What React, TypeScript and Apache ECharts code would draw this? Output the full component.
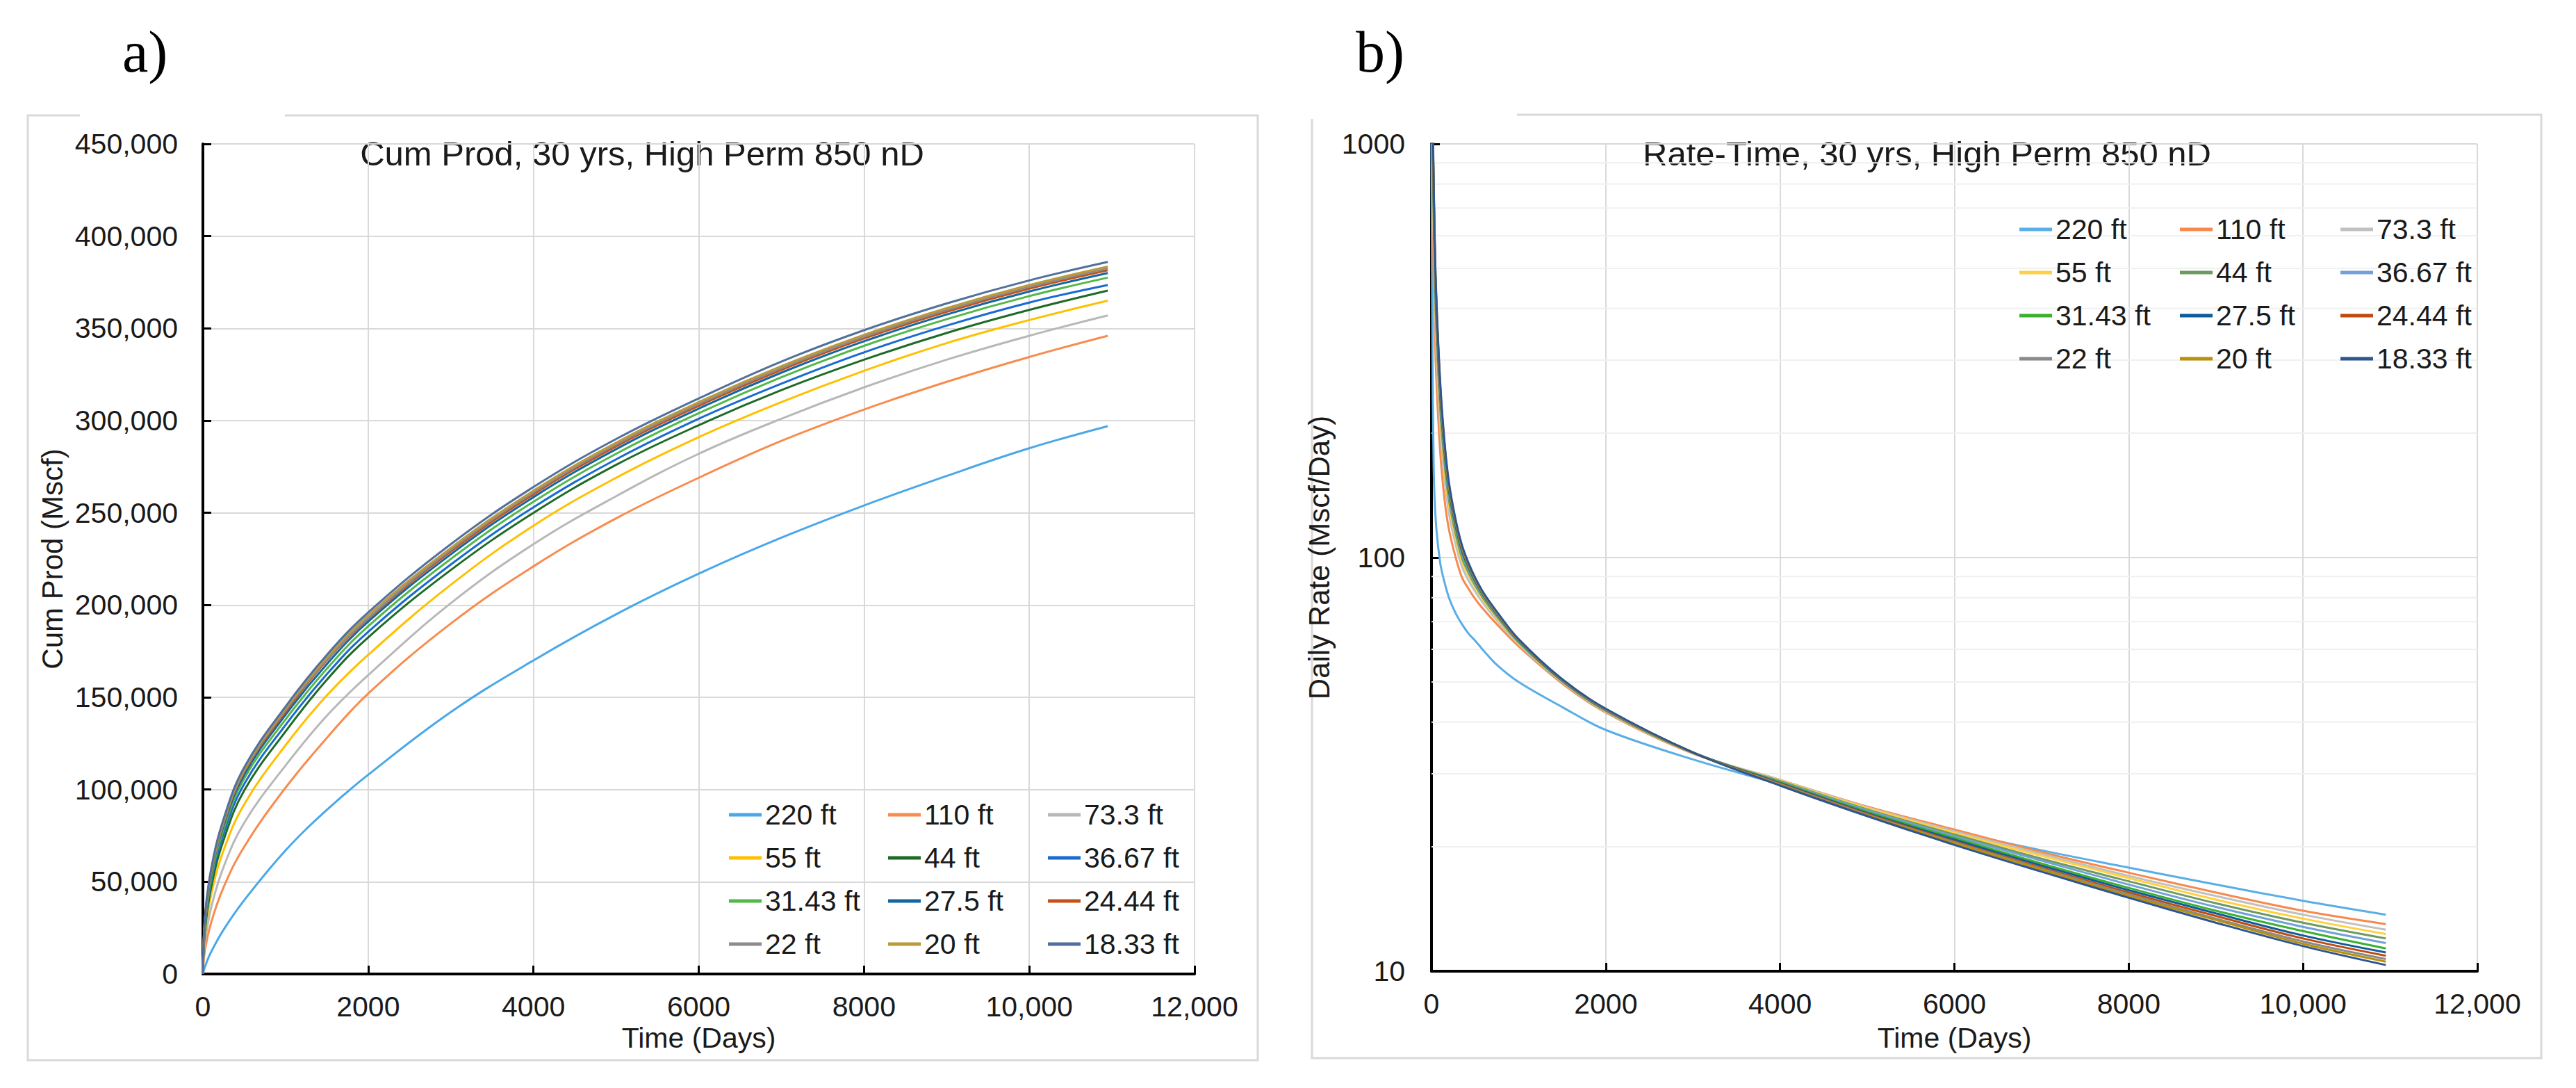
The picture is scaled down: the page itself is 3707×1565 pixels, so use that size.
import React, { useEffect, useRef } from "react";
import * as echarts from "echarts";

const FONT = "'Liberation Sans', Arial, Helvetica, sans-serif";
const SERIF = "'Liberation Serif', 'Times New Roman', serif";
const TEXT = "#1A1A1A";
const GRID = "#D9D9D9";
const MINOR = "#F0F0F0";

const seriesNames = ["220 ft", "110 ft", "73.3 ft", "55 ft", "44 ft", "36.67 ft", "31.43 ft", "27.5 ft", "24.44 ft", "22 ft", "20 ft", "18.33 ft"];

const cumColors = ["#4AA8E8", "#F88C4F", "#B8B8B8", "#FFC000", "#1E6B26", "#1A6BD0", "#52B848", "#1366A0", "#C5501A", "#8C8C8C", "#BC9A3A", "#52709E"];
const rateColors = ["#5AAEE5", "#F7894E", "#C0C0C0", "#FFD040", "#6E9A60", "#72A0D8", "#3CB030", "#0F5C9A", "#C04A10", "#8A8A8A", "#B8900A", "#2F5590"];

// Legend layout: columns of series indices
const legendColumns = [[0, 3, 6, 9], [1, 4, 7, 10], [2, 5, 8, 11]];

// ---------- Chart a) cumulative production (thousand Mscf) ----------
const cumDays = [0, 25, 100, 250, 500, 1000, 1500, 2000, 3000, 4000, 5000, 6000, 7000, 8000, 9000, 10000, 10950];
const cum220 = [0, 4, 12, 24, 40, 67, 89, 108, 142, 170, 195, 217, 236.5, 254, 270, 285, 297];
const cum110 = [0, 13, 28, 47, 69, 101, 128, 152, 190, 221, 247, 269, 289, 306, 321, 334.5, 346];
const cum73 = [0, 17, 36, 58, 82, 113, 140, 162, 201, 233, 259, 282, 301, 318, 333, 346, 357];
const cum55 = [0, 21, 43, 67, 92, 124, 151, 173, 211, 243, 269, 291, 310, 327, 342, 354.5, 365];
const cum44 = [0, 23.5, 47, 72.5, 99.5, 131.5, 159.5, 182.5, 219, 250, 276, 297.5, 316.5, 333, 347.5, 360, 370.5];
const cum36 = [0, 25, 50, 76, 103, 135, 162.5, 185.5, 222, 253, 279, 301, 320, 337, 351.5, 364, 373.5];
const cum31 = [0, 26.5, 52, 78.5, 106, 138, 165.5, 188.5, 225, 256, 282, 304, 323.5, 340.5, 355, 367.5, 377.5];
const cum27 = [0, 28, 54, 80.5, 108, 140.5, 168, 191, 227.5, 258.5, 284.5, 306.5, 326, 343, 357.5, 370, 380];
const cum24 = [0, 29, 55, 81.5, 109.5, 142, 170, 192.5, 229, 260, 286, 308, 327.5, 344.5, 359, 371.5, 381.5];
const cum22 = [0, 29.5, 55.5, 82, 110, 143, 170.5, 193, 230, 261, 287, 309, 328.5, 345.5, 360, 372.5, 382.5];
const cum20 = [0, 30, 56, 83, 111, 144, 171.5, 194.5, 231, 262, 288, 310, 329.5, 346.5, 361, 373.5, 383.5];
const cum18 = [0, 31, 57, 84, 112, 145, 173, 196, 233, 264, 290, 312, 332, 349, 363.5, 376, 386];
const cumSeries = [cum220, cum110, cum73, cum55, cum44, cum36, cum31, cum27, cum24, cum22, cum20, cum18];

const timeTicks = [0, 2000, 4000, 6000, 8000, 10000, 12000];
const timeTickLabels = ["0", "2000", "4000", "6000", "8000", "10,000", "12,000"];
const cumTicks = [0, 50000, 100000, 150000, 200000, 250000, 300000, 350000, 400000, 450000];
const cumTickLabels = ["0", "50,000", "100,000", "150,000", "200,000", "250,000", "300,000", "350,000", "400,000", "450,000"];

// ---------- Chart b) daily rate (Mscf/Day) ----------
const rateDays = [0, 10, 25, 50, 100, 150, 200, 275, 350, 425, 500, 600, 750, 1000, 1500, 2000, 3000, 4000, 5000, 6000, 7000, 8000, 9000, 10000, 10950];
const rate220 = [1000, 350, 165, 122, 97, 87, 80, 73.5, 69, 65.5, 63, 59.5, 55, 50, 43.5, 38.3, 32.5, 28.3, 24.6, 21.8, 19.6, 17.8, 16.2, 14.8, 13.7];
const rate110 = [2200, 900, 480, 290, 180, 138, 117, 100.5, 89.5, 84, 79.5, 74.8, 69, 61, 49.6, 42.2, 33.6, 29.0, 25.0, 22.0, 19.4, 17.3, 15.5, 14.0, 13.0];
const rate73 = [2400, 1000, 580, 340, 205, 154, 128, 108, 95, 88, 82.8, 77.2, 70.5, 61.7, 49.9, 42.4, 33.7, 29.0, 24.9, 21.8, 19.2, 17.0, 15.2, 13.7, 12.6];
const rate55 = [2600, 1100, 640, 370, 220, 163, 134, 112, 98, 90.5, 84.7, 78.6, 71.4, 62.1, 50.1, 42.5, 33.7, 28.9, 24.8, 21.6, 19.0, 16.8, 14.9, 13.4, 12.3];
const rate44 = [2700, 1150, 680, 390, 230, 169, 138, 115, 100, 92, 85.8, 79.4, 72, 62.4, 50.2, 42.6, 33.7, 28.8, 24.6, 21.4, 18.7, 16.5, 14.6, 13.1, 12.0];
const rate36 = [2800, 1200, 710, 405, 238, 174, 141, 117, 101.5, 93, 86.6, 80, 72.4, 62.6, 50.3, 42.7, 33.8, 28.7, 24.5, 21.2, 18.5, 16.2, 14.3, 12.8, 11.7];
const rate31 = [2900, 1250, 740, 420, 245, 178, 144, 119, 103, 94, 87.4, 80.5, 72.8, 62.8, 50.4, 42.8, 33.8, 28.6, 24.3, 21.0, 18.2, 15.9, 14.0, 12.5, 11.35];
const rate27 = [3000, 1300, 760, 430, 250, 181, 146, 120.5, 104, 95, 88, 80.9, 73.1, 63.0, 50.5, 42.8, 33.8, 28.5, 24.1, 20.8, 18.0, 15.7, 13.8, 12.2, 11.1];
const rate24 = [3100, 1320, 780, 440, 255, 184, 148, 121.5, 105, 95.5, 88.4, 81.2, 73.3, 63.1, 50.6, 42.9, 33.8, 28.4, 24.0, 20.6, 17.8, 15.5, 13.6, 12.0, 10.9];
const rate22 = [3150, 1350, 790, 445, 258, 186, 149, 122.5, 105.5, 96, 88.7, 81.4, 73.5, 63.2, 50.6, 42.9, 33.8, 28.3, 23.9, 20.5, 17.7, 15.35, 13.4, 11.8, 10.7];
const rate20 = [3200, 1380, 800, 450, 260, 187, 150, 123, 106, 96.5, 89, 81.6, 73.7, 63.3, 50.7, 43.0, 33.8, 28.2, 23.8, 20.4, 17.6, 15.2, 13.3, 11.65, 10.55];
const rate18 = [3300, 1400, 820, 460, 265, 190, 152, 124, 107, 97, 89.5, 82, 74, 63.5, 50.8, 43.1, 33.8, 28.1, 23.7, 20.2, 17.4, 15.05, 13.1, 11.5, 10.35];
const rateSeries = [rate220, rate110, rate73, rate55, rate44, rate36, rate31, rate27, rate24, rate22, rate20, rate18];

const rateTicks = [10, 100, 1000];
const rateTickLabels = ["10", "100", "1000"];
const rateMinorGrid = [20, 30, 40, 50, 60, 70, 80, 90, 200, 300, 400, 500, 600, 700, 800, 900];

const titleA = "Cum Prod, 30 yrs, High Perm 850 nD";
const titleB = "Rate-Time, 30 yrs, High Perm 850 nD";

function lookup(ticks: number[], labels: string[], v: number) {
  for (let i = 0; i < ticks.length; i++) {
    if (Math.abs(ticks[i] - v) < 1e-6 * Math.max(1, Math.abs(v))) return labels[i];
  }
  return "";
}

function xAxisCommon(nameGap: number) {
  return {
    type: "value",
    min: 0,
    max: 12000,
    interval: 2000,
    name: "Time (Days)",
    nameLocation: "middle",
    nameGap,
    nameTextStyle: { fontFamily: FONT, fontSize: 41, color: TEXT },
    axisLine: { show: true, onZero: false, lineStyle: { color: "#000", width: 4 } },
    axisTick: { show: true, inside: true, length: 12, lineStyle: { color: "#000", width: 3 } },
    axisLabel: {
      margin: 26,
      fontFamily: FONT,
      fontSize: 41,
      color: TEXT,
      formatter: (v: number) => lookup(timeTicks, timeTickLabels, v),
    },
    splitLine: { show: true, lineStyle: { color: GRID, width: 2 } },
  };
}

function legends(left: number[], top: number, colors: string[]) {
  return legendColumns.map((col, ci) => ({
    orient: "vertical",
    left: left[ci],
    top,
    padding: 0,
    itemGap: 16,
    itemWidth: 47,
    itemHeight: 5,
    icon: "rect",
    selectedMode: false,
    data: col.map((i) => ({ name: seriesNames[i], icon: "rect", itemStyle: { color: colors[i] } })),
    textStyle: { fontFamily: FONT, fontSize: 41, color: TEXT, lineHeight: 46 },
  }));
}

function borderGraphics(box: number[], gap: number[], label: string, labelX: number, title: string, titleX: number) {
  return [
    {
      type: "rect",
      silent: true,
      shape: { x: box[0], y: box[1], width: box[2], height: box[3] },
      style: { fill: "none", stroke: GRID, lineWidth: 3 },
    },
    {
      type: "rect",
      silent: true,
      shape: { x: gap[0], y: box[1] - 6, width: gap[1] - gap[0], height: 12 },
      style: { fill: "#fff" },
    },
    {
      type: "text",
      silent: true,
      x: labelX,
      y: 74,
      style: { text: label, font: `84px ${SERIF}`, fill: "#000", textAlign: "left", textVerticalAlign: "middle" },
    },
    {
      type: "text",
      silent: true,
      x: titleX,
      y: 221,
      style: { text: title, font: `49px ${FONT}`, fill: TEXT, textAlign: "center", textVerticalAlign: "middle" },
    },
  ];
}

function buildCumOption() {
  return {
    animation: false,
    backgroundColor: "#fff",
    color: cumColors,
    grid: { left: 292, top: 207, width: 1427, height: 1194 },
    xAxis: xAxisCommon(71),
    yAxis: {
      type: "value",
      min: 0,
      max: 450000,
      interval: 50000,
      name: "Cum Prod (Mscf)",
      nameLocation: "middle",
      nameGap: 195,
      nameTextStyle: { fontFamily: FONT, fontSize: 42, color: TEXT },
      axisLine: { show: true, onZero: false, lineStyle: { color: "#000", width: 4 } },
      axisTick: { show: true, inside: true, length: 12, lineStyle: { color: "#000", width: 3 } },
      axisLabel: {
        margin: 36,
        fontFamily: FONT,
        fontSize: 41,
        color: TEXT,
        formatter: (v: number) => lookup(cumTicks, cumTickLabels, v),
      },
      splitLine: { show: true, lineStyle: { color: GRID, width: 2 } },
    },
    legend: legends([1049, 1278, 1508], 1149, cumColors),
    graphic: borderGraphics([40, 166, 1770, 1359], [115, 410], "a)", 176, titleA, 924),
    series: seriesNames.map((name, i) => ({
      name,
      type: "line",
      symbol: "none",
      smooth: 0.4,
      color: cumColors[i],
      itemStyle: { color: cumColors[i] },
      lineStyle: { width: 3, color: cumColors[i] },
      data: cumDays.map((d, j) => [d, cumSeries[i][j] * 1000]),
    })),
  };
}

function buildRateOption() {
  const minorSeries = rateMinorGrid.map((v) => ({
    type: "line",
    silent: true,
    symbol: "none",
    z: 1,
    lineStyle: { width: 2, color: MINOR },
    data: [[0, v], [12000, v]],
  }));
  const curves = seriesNames.map((name, i) => ({
    name,
    type: "line",
    symbol: "none",
    smooth: 0.35,
    z: 2,
    clip: true,
    color: rateColors[i],
    itemStyle: { color: rateColors[i] },
    lineStyle: { width: 3, color: rateColors[i] },
    data: rateDays.map((d, j) => [d, rateSeries[i][j]]),
  }));
  return {
    animation: false,
    backgroundColor: "#fff",
    color: rateColors,
    grid: { left: 210, top: 207, width: 1505, height: 1190 },
    xAxis: xAxisCommon(75),
    yAxis: {
      type: "log",
      logBase: 10,
      min: 10,
      max: 1000,
      name: "Daily Rate (Mscf/Day)",
      nameLocation: "middle",
      nameGap: 119,
      nameTextStyle: { fontFamily: FONT, fontSize: 42, color: TEXT },
      axisLine: { show: true, onZero: false, lineStyle: { color: "#000", width: 4 } },
      axisTick: { show: true, inside: true, length: 12, lineStyle: { color: "#000", width: 3 } },
      axisLabel: {
        margin: 38,
        fontFamily: FONT,
        fontSize: 41,
        color: TEXT,
        formatter: (v: number) => lookup(rateTicks, rateTickLabels, Math.round(v)),
      },
      splitLine: { show: true, lineStyle: { color: GRID, width: 2 } },
    },
    legend: legends([1056, 1287, 1518], 307, rateColors),
    graphic: borderGraphics([38, 165, 1769, 1357], [30, 333], "b)", 101, titleB, 923),
    series: [...minorSeries, ...curves],
  };
}

function Chart({ build, style }: { build: () => any; style: React.CSSProperties }) {
  const ref = useRef<HTMLDivElement>(null);
  useEffect(() => {
    if (!ref.current) return;
    const chart = echarts.init(ref.current, null, { renderer: "svg" });
    chart.setOption(build());
    return () => chart.dispose();
  }, []);
  return <div ref={ref} style={style} />;
}

export default function App() {
  return (
    <div style={{ position: "absolute", left: 0, top: 0, width: 3707, height: 1565, background: "#fff" }}>
      <Chart build={buildCumOption} style={{ position: "absolute", left: 0, top: 0, width: 1850, height: 1565 }} />
      <Chart build={buildRateOption} style={{ position: "absolute", left: 1850, top: 0, width: 1857, height: 1565 }} />
    </div>
  );
}
